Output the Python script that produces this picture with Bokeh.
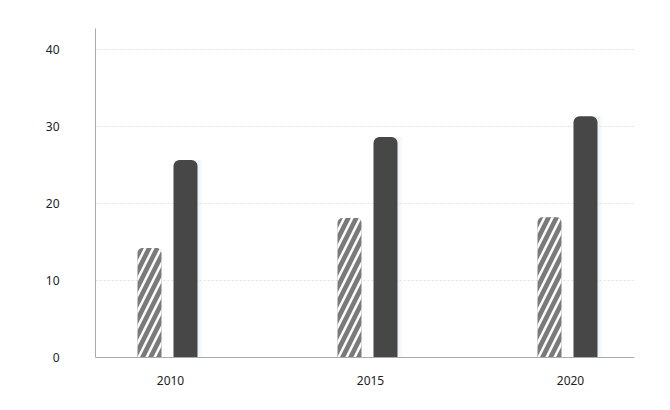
from bokeh.plotting import figure
from bokeh.models import Range1d, FixedTicker, ColumnDataSource
from bokeh.transform import dodge
from bokeh.embed import file_html
from bokeh.resources import INLINE

years = [2010, 2015, 2020]
tick_labels = ["2010", "2015", "2020"]
series_a = [14.2, 18.1, 18.2]
series_b = [25.6, 28.6, 31.3]
y_ticks = [0, 10, 20, 30, 40]

src = ColumnDataSource(dict(x=years, a=series_a, b=series_b))

p = figure(width=654, height=394, output_backend="svg", toolbar_location=None,
           x_range=Range1d(2008.125, 2021.6), y_range=Range1d(0, 42.67),
           min_border_left=95, min_border_right=20, min_border_top=28, min_border_bottom=37)
p.outline_line_color = None
p.background_fill_color = "white"

# faint shadow next to the dark bars
for off, w, a in [(0.62, 0.35, 0.25), (0.58, 0.3, 0.3)]:
    p.vbar(x=dodge("x", off, range=p.x_range), top="b", width=w, source=src,
           fill_color="#dfe7ea", fill_alpha=a, line_color=None)

p.vbar(x=dodge("x", -0.525, range=p.x_range), top="a", width=0.6, source=src,
       fill_color="#7a7a7a", line_color=None, hatch_pattern="/", hatch_color="white",
       hatch_scale=16, hatch_weight=2.5, border_radius=(5, 5, 0, 0))
p.vbar(x=dodge("x", 0.375, range=p.x_range), top="b", width=0.6, source=src,
       fill_color="#474747", line_color=None, border_radius=(6, 6, 0, 0))

p.xaxis.ticker = FixedTicker(ticks=years)
p.xaxis.major_label_overrides = {y: t for y, t in zip(years, tick_labels)}
p.yaxis.ticker = FixedTicker(ticks=y_ticks)

for ax in (p.xaxis, p.yaxis):
    ax.axis_line_color = "#aaaaaa"
    ax.major_tick_line_color = None
    ax.minor_tick_line_color = None
    ax.major_label_text_font = "Noto Sans"
    ax.major_label_text_font_size = "12px"
    ax.major_label_text_color = "#222222"
p.xaxis.major_label_standoff = 12
p.yaxis.major_label_standoff = 30

p.xgrid.grid_line_color = None
p.ygrid.grid_line_color = "#e2e2e2"
p.ygrid.grid_line_dash = "2 2"

open("out.html", "w").write(file_html(p, INLINE))
